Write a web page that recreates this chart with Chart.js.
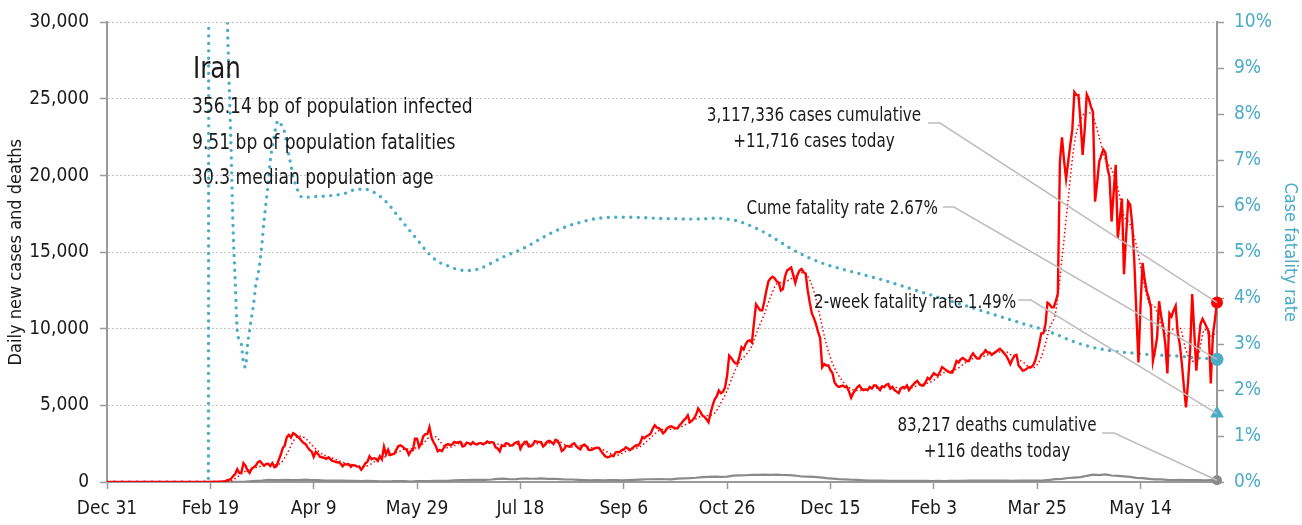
<!DOCTYPE html>
<html>
<head>
<meta charset="utf-8">
<title>Iran: daily new cases and deaths</title>
<script src="https://cdn.jsdelivr.net/npm/chart.js@4.4.1/dist/chart.umd.min.js"></script>
<style>
  html, body { margin: 0; padding: 0; background: #ffffff; }
  canvas { display: block; }
</style>
</head>
<body>
<canvas id="chart" width="1302" height="525"></canvas>
<script>
// ---- data -------------------------------------------------------------
// day 0 = Dec 31, 2019; one value per day
const tickLabels = ['Dec 31', 'Feb 19', 'Apr 9', 'May 29', 'Jul 18', 'Sep 6', 'Oct 26', 'Dec 15', 'Feb 3', 'Mar 25', 'May 14'];
const tickEveryDays = 50;

const dailyCases = [
  0,0,0,0,0,0,0,0,0,0, 0,0,0,0,0,0,0,0,0,0, 0,0,0,0,0,0,0,0,0,0, 0,0,0,0,0,0,0,0,0,0, 0,0,0,0,0,0,0,0,0,0,
  2,3,13,10,15,18,34,44,106,143,205,
  385,523,835,586,591,1234,1076,743,595,881,958,1075,1289,1365,1209,1053,1178,1192,1046,1237,966,1028,1411,1762,2206,2389,2926,3076,2901,3186,3111,
  2987,2875,2715,2560,2483,2274,2089,1997,1634,1972,1837,1657,1617,1574,1512,1606,1499,1374,1343,1294,1297,1194,1030,1168,1134,1153,991,1112,1073,1006,
  1006,802,976,1223,1323,1680,1485,1556,1529,1383,1683,1481,2294,1808,2102,1757,1806,1841,2111,2346,2392,2311,2182,2102,1787,2023,2080,2819,2819,2282,2516,
  2979,3117,3134,3574,2886,2596,2364,2011,2095,2011,2238,2410,2472,2410,2449,2612,2563,2595,2615,2322,2368,2573,2531,2445,2595,2489,2456,2536,2536,2457,
  2549,2652,2560,2613,2560,2262,2187,2000,2397,2349,2521,2500,2388,2379,2521,2586,2625,2166,2414,2621,2625,2316,2333,2434,2667,2636,2621,2600,2316,2434,2636,
  2685,2598,2473,2751,2697,2450,2020,2125,2345,2349,2300,2450,2522,2349,2210,2133,2385,2444,2328,2100,2085,2125,2211,2234,2230,2014,1841,1682,1620,1640,1740,
  1682,1930,1960,1953,2063,2125,2270,2180,2080,2200,2310,2400,2380,2570,2930,2850,2990,3050,3170,3480,3700,3560,3500,3400,3180,3300,3520,3600,3630,3560,
  3500,3500,3700,3850,4030,4150,4350,3900,4000,4150,4400,4800,4600,4350,4250,4100,3900,4500,5000,5400,5600,5970,5800,5900,6170,6950,8250,8100,7900,7750,7730,
  8200,8800,8650,9000,9200,9250,9100,10400,11600,11400,11200,11200,11800,12500,13100,13300,13400,13300,13100,13000,12500,12600,13400,13800,13900,14000,13500,13000,13500,13800,
  13900,13700,13600,12500,11700,11000,10700,10300,9800,9400,7500,7700,7600,7600,7300,7100,6500,6300,6200,6250,6300,6200,6200,5900,5500,5800,6000,6200,6300,6100,6000,
  6050,6000,6200,6100,6300,6300,6150,6000,6250,6200,6350,6400,6100,6200,6000,5900,5800,6100,6200,6150,6300,6000,6200,6350,6500,6600,6400,6300,6300,6500,6800,
  6700,6900,7100,7000,6950,7200,7500,7400,7300,7200,7150,7150,7500,7900,7800,8000,8100,8000,7900,7900,8200,8400,8200,8050,8050,8300,8400,8600,
  8450,8450,8300,8400,8500,8600,8700,8570,8400,8250,8000,7700,8000,8250,8300,7600,7450,7270,7300,7400,7500,7500,7600,7900,8400,9000,9700,9700,10300,11700,11600,
  11400,11400,11800,12300,20900,22500,21000,19800,20900,22000,23000,25450,25250,25250,23500,21350,23000,25300,25000,24500,24150,18300,19500,20900,21300,21700,21500,20500,19900,17000,
  18900,20700,15900,17200,18500,13570,16000,18300,18100,16800,14400,11000,7800,11500,14300,13200,12470,12000,11400,7900,8600,9400,11800,10800,10100,9000,7080,11000,10800,11200,11500,
  9700,9000,7730,6200,4870,6500,8570,12270,9800,7270,9000,10300,10650,10400,10100,9800,6430,9550,10600,11716
];

// 7-day average of new cases and daily deaths, one value every 3 days from day 0
const sampleStepDays = 3;
const casesAvg7 = [
  0,0,0,0,0,0,0,0,0,0,0,0,0,0,0,0,0,
  1,6,20,81,320,623,809,937,1053,1194,
  1126,1235,1813,2635,3009,2845,2428,2041,1755,1615,
  1457,1290,1181,1094,1020,1058,1292,1520,1676,1847,
  1967,2141,2163,2259,2503,2917,2950,2505,2229,2372,
  2531,2521,2493,2518,2517,2558,2483,2338,2335,2463,
  2440,2479,2487,2515,2559,2535,2613,2409,2291,2361,
  2356,2241,2218,2106,1894,1734,1853,2069,2175,2303,
  2633,3006,3350,3446,3447,3516,3681,3926,4140,4314,
  4343,4500,5167,5970,7010,7840,8290,8886,9993,10957,
  12071,12929,13029,13186,13457,13657,13429,12443,10771,9000,
  7743,6943,6407,6079,5971,5986,6121,6136,6186,6236,
  6214,6071,6064,6186,6336,6421,6557,6850,7150,7243,
  7371,7657,7943,8100,8157,8293,8414,8486,8489,8231,
  8014,7739,7431,7657,8543,10057,11129,14557,18457,22093,
  23621,24157,23829,22521,21050,20400,19200,17396,16796,15453,
  13414,11753,11410,10271,9540,9997,10040,8600,7877,8326,
  9956,9526,9799
];
const dailyDeaths = [
  0,0,0,0,0,0,0,0,0,0,0,0,0,0,0,0,0,
  2,3,3,9,11,17,43,75,97,147,
  123,122,144,117,124,151,121,117,94,89,
  87,90,76,71,63,68,55,45,50,51,
  62,57,34,57,64,59,72,81,71,115,
  120,116,134,144,141,163,200,221,179,188,
  229,215,212,235,208,212,186,163,164,144,
  126,112,119,102,125,116,107,125,144,158,
  178,179,189,180,176,215,239,254,279,322,
  337,346,335,346,415,434,440,459,461,486,
  469,483,457,448,422,359,357,330,300,252,
  221,192,175,148,134,115,96,84,91,80,
  78,83,76,81,71,80,66,71,62,69,
  77,81,86,91,96,95,88,86,88,80,
  84,87,84,95,107,136,189,206,263,291,
  321,405,479,445,492,426,400,372,337,274,
  247,210,176,171,145,132,137,122,128,129,
  103,120,116
];

// cumulative case fatality rate (%), by day
const cfrDays = [
  0, 49, 50, 51, 52, 53, 54, 55, 56, 57, 58, 59, 60, 61, 62, 63, 64, 65, 66, 67, 68, 69, 70,
  71, 72, 73, 74, 75, 76, 77, 78, 79, 80, 81, 82, 83, 84, 85, 86, 87, 88, 89, 90, 91, 92, 93, 95,
  100, 105, 110, 115, 120, 125, 130, 135, 140, 145, 150, 155, 160, 165, 170, 175, 180, 185, 190, 195,
  200, 205, 210, 215, 220, 225, 230, 235, 240, 245, 250, 255, 260, 265, 270, 275, 280, 285, 290, 295,
  300, 305, 310, 315, 320, 325, 330, 335, 340, 345, 350, 355, 360, 365, 370, 375, 380, 385, 390, 395,
  400, 405, 410, 415, 420, 425, 430, 435, 440, 445, 450, 455, 460, 465, 470, 475, 480, 485, 490, 495,
  500, 505, 510, 515, 520, 525, 530, 535, 537
];
const cfrPct = [
  0, 0, 100, 40, 22.2, 17.9, 18.6, 19.7, 16.8, 13.7, 10.6, 8.8, 7.3, 5.5, 4.4, 3.3, 3.1, 3.0, 2.6, 2.5, 3.0, 3.3, 3.6,
  3.9, 4.3, 4.5, 4.8, 5.2, 5.7, 6.1, 6.5, 7.0, 7.3, 7.55, 7.79, 7.86, 7.8, 7.69, 7.6, 7.35, 7.11, 6.89, 6.64, 6.5, 6.38, 6.26, 6.19,
  6.21, 6.22, 6.24, 6.28, 6.36, 6.37, 6.28, 6.10, 5.83, 5.55, 5.28, 5.00, 4.80, 4.70, 4.62, 4.60, 4.64, 4.74, 4.86, 4.96,
  5.05, 5.17, 5.30, 5.42, 5.52, 5.60, 5.66, 5.72, 5.75, 5.76, 5.76, 5.76, 5.75, 5.74, 5.73, 5.73, 5.72, 5.72, 5.73, 5.74,
  5.72, 5.68, 5.60, 5.50, 5.38, 5.24, 5.10, 4.98, 4.87, 4.78, 4.70, 4.64, 4.58, 4.52, 4.46, 4.40, 4.33, 4.26, 4.19, 4.12,
  4.05, 3.98, 3.91, 3.84, 3.77, 3.70, 3.63, 3.56, 3.49, 3.42, 3.36, 3.28, 3.20, 3.10, 3.02, 2.95, 2.90, 2.86, 2.83, 2.81,
  2.79, 2.77, 2.76, 2.75, 2.73, 2.71, 2.69, 2.68, 2.67
];

// latest figures
const cumulativeCases = 3117336;
const casesToday = 11716;
const cumulativeDeaths = 83217;
const deathsToday = 116;
const cumeFatalityRate = 2.67;
const twoWeekFatalityRate = 1.49;

const countryName = 'Iran';
const countryStats = [
  '356.14 bp of population infected',
  '9.51 bp of population fatalities',
  '30.3 median population age'
];

// ---- styling ----------------------------------------------------------
const FONT = "'Liberation Sans Narrow', 'Arial Narrow', 'DejaVu Sans Condensed', sans-serif";
const RED = '#ff0000';
const TEAL = '#4aacc5';
const GREY = '#8a8a8a';
const AXIS = '#9a9a9a';
const INK = '#1a1a1a';
const LEADER = '#bdbdbd';

const lastDay = dailyCases.length - 1;
const fmt = n => n.toLocaleString('en-US');

const daily = arr => arr.map((v, i) => ({ x: i, y: v }));
const sampled = arr => arr.map((v, i) => ({ x: i * sampleStepDays, y: v }));
const paired = (xs, ys) => xs.map((d, i) => ({ x: d, y: ys[i] }));

// draws text narrowed to a fraction of its natural width (condensed look)
function narrowText(ctx, s, x, y, squeeze) {
  ctx.fillText(s, x, y, ctx.measureText(s).width * squeeze);
}

// text blocks and their leader lines to the latest-value markers
const notesPlugin = {
  id: 'notes',
  afterDatasetsDraw(chart) {
    const { ctx, scales: { x, y, y2 } } = chart;
    const xEnd = x.getPixelForValue(lastDay);

    ctx.save();
    ctx.fillStyle = INK;
    ctx.textBaseline = 'alphabetic';

    ctx.font = `31px ${FONT}`;
    ctx.textAlign = 'left';
    narrowText(ctx, countryName, 193, 78, 0.88);

    ctx.font = `22px ${FONT}`;
    countryStats.forEach((s, i) => narrowText(ctx, s, 192, 113 + i * 35.5, 0.865));

    ctx.font = `20px ${FONT}`;
    const sq = 0.845;
    ctx.textAlign = 'center';
    narrowText(ctx, `${fmt(cumulativeCases)} cases cumulative`, 814, 121, sq);
    narrowText(ctx, `+${fmt(casesToday)} cases today`, 814, 147, sq);

    ctx.textAlign = 'right';
    narrowText(ctx, `Cume fatality rate ${cumeFatalityRate.toFixed(2)}%`, 938, 214, sq);

    ctx.textAlign = 'left';
    narrowText(ctx, `2-week fatality rate ${twoWeekFatalityRate.toFixed(2)}%`, 814, 308, sq);

    ctx.textAlign = 'center';
    narrowText(ctx, `${fmt(cumulativeDeaths)} deaths cumulative`, 997, 431, sq);
    narrowText(ctx, `+${fmt(deathsToday)} deaths today`, 997, 457, sq);

    ctx.strokeStyle = LEADER;
    ctx.lineWidth = 1.5;
    const leader = (x0, yLevel, x1, tx, ty) => {
      ctx.beginPath();
      ctx.moveTo(x0, yLevel);
      ctx.lineTo(x1, yLevel);
      ctx.lineTo(tx, ty);
      ctx.stroke();
    };
    leader(928, 123, 940, xEnd, y.getPixelForValue(casesToday));
    leader(943, 207, 954, xEnd, y2.getPixelForValue(cumeFatalityRate));
    leader(1018, 300, 1031, xEnd, y2.getPixelForValue(twoWeekFatalityRate));
    leader(1102, 433, 1114, xEnd, y.getPixelForValue(deathsToday));
    ctx.restore();
  }
};

const marker = (value, axis, color, style, radius) => ({
  data: [{ x: lastDay, y: value }],
  yAxisID: axis,
  showLine: false,
  pointStyle: style,
  pointRadius: radius,
  pointBackgroundColor: color,
  pointBorderColor: color,
  pointBorderWidth: 0,
  clip: false
});

const tickFont = { family: FONT, size: 19 };

new Chart(document.getElementById('chart'), {
  type: 'line',
  data: {
    datasets: [
      marker(casesToday, 'y', RED, 'circle', 6),
      marker(cumeFatalityRate, 'y2', TEAL, 'circle', 6.5),
      marker(twoWeekFatalityRate, 'y2', TEAL, 'triangle', 8),
      marker(deathsToday, 'y', GREY, 'circle', 5),
      {
        data: daily(dailyCases),
        yAxisID: 'y',
        borderColor: RED,
        borderWidth: 2.4,
        pointRadius: 0,
        tension: 0
      },
      {
        data: sampled(casesAvg7),
        yAxisID: 'y',
        borderColor: RED,
        borderWidth: 1.5,
        borderDash: [1.5, 2.5],
        pointRadius: 0,
        cubicInterpolationMode: 'monotone'
      },
      {
        data: paired(cfrDays, cfrPct),
        yAxisID: 'y2',
        borderColor: TEAL,
        borderWidth: 3.4,
        borderDash: [0, 7.5],
        borderCapStyle: 'round',
        pointRadius: 0,
        cubicInterpolationMode: 'monotone'
      },
      {
        data: sampled(dailyDeaths),
        yAxisID: 'y',
        borderColor: GREY,
        borderWidth: 2.2,
        pointRadius: 0,
        tension: 0
      }
    ]
  },
  options: {
    responsive: false,
    animation: false,
    devicePixelRatio: 1,
    layout: { padding: { top: 20, left: 0, right: 0, bottom: 0 } },
    plugins: { legend: { display: false }, tooltip: { enabled: false } },
    elements: { line: { fill: false } },
    scales: {
      x: {
        type: 'linear',
        min: 0,
        max: lastDay,
        afterBuildTicks: s => { s.ticks = tickLabels.map((_, i) => ({ value: i * tickEveryDays })); },
        afterFit: s => { s.height = 43; },
        ticks: {
          callback: v => tickLabels[Math.round(v / tickEveryDays)] ?? '',
          font: tickFont,
          color: INK,
          padding: 9,
          maxRotation: 0,
          autoSkip: false
        },
        grid: { drawOnChartArea: false, drawTicks: true, tickLength: 7, tickColor: AXIS, tickWidth: 1.5 },
        border: { color: AXIS, width: 2 }
      },
      y: {
        type: 'linear',
        position: 'left',
        min: 0,
        max: 30000,
        afterFit: s => { s.width = 107; },
        ticks: {
          stepSize: 5000,
          callback: v => fmt(v),
          font: tickFont,
          color: INK,
          padding: 11
        },
        grid: { color: '#c6c6c6', lineWidth: 1, tickLength: 7, tickColor: AXIS, tickWidth: 1.5, tickBorderDash: [] },
        border: { color: AXIS, width: 2, dash: [2, 2] },
        title: {
          display: true,
          text: 'Daily new cases and deaths',
          font: { family: FONT, size: 18 },
          color: INK,
          padding: { top: 6, bottom: 0 }
        }
      },
      y2: {
        type: 'linear',
        position: 'right',
        min: 0,
        max: 10,
        afterFit: s => { s.width = 85; },
        ticks: {
          stepSize: 1,
          callback: v => v + '%',
          font: tickFont,
          color: TEAL,
          padding: 10
        },
        grid: { drawOnChartArea: false, tickLength: 7, tickColor: AXIS, tickWidth: 1.5 },
        border: { color: AXIS, width: 2 },
        title: {
          display: true,
          text: 'Case fatality rate',
          font: { family: FONT, size: 18 },
          color: TEAL,
          padding: { top: 2, bottom: 0 }
        }
      }
    }
  },
  plugins: [notesPlugin]
});
</script>
</body>
</html>
